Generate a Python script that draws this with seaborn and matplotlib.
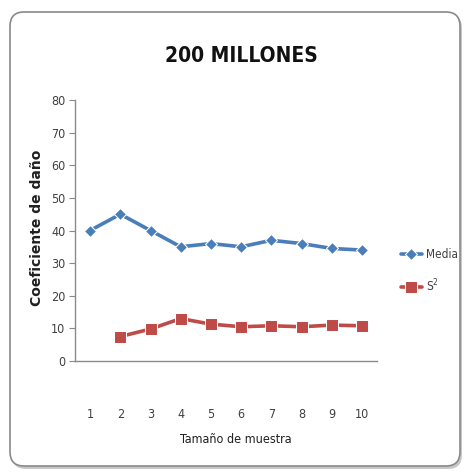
import matplotlib
matplotlib.use("Agg")
import matplotlib.pyplot as plt
from matplotlib.patches import FancyBboxPatch
import seaborn as sns
import pandas as pd

# ---- data ----
tamanos = [1, 2, 3, 4, 5, 6, 7, 8, 9, 10]
media = [40, 45, 40, 35, 36, 35, 37, 36, 34.5, 34]
s2_tamanos = [2, 3, 4, 5, 6, 7, 8, 9, 10]
s2 = [7.5, 9.8, 13, 11.3, 10.5, 10.8, 10.5, 11, 10.8]
series_names = ["Media", "S$^{2}$"]
title = "200 MILLONES"
xlabel = "Tamaño de muestra"
ylabel = "Coeficiente de daño"

df = pd.concat([
    pd.DataFrame({"x": tamanos, "y": media, "serie": series_names[0]}),
    pd.DataFrame({"x": s2_tamanos, "y": s2, "serie": series_names[1]}),
])

sns.set_theme(style="white")
plt.rcParams["font.family"] = ["DejaVu Sans"]
plt.rcParams["font.stretch"] = "condensed"

fig = plt.figure(figsize=(4.67, 4.72), dpi=100)
fig.patch.set_facecolor("white")

W, H = 467, 472
def fx(px): return px / W
def fy(py): return 1 - py / H
shadow = FancyBboxPatch((fx(12), fy(469)), fx(462) - fx(12), fy(14) - fy(469),
                        boxstyle="round,pad=0,rounding_size=0.03",
                        transform=fig.transFigure, facecolor="#c8c8c8",
                        edgecolor="none", zorder=-2)
frame = FancyBboxPatch((fx(10), fy(466)), fx(460) - fx(10), fy(12) - fy(466),
                       boxstyle="round,pad=0,rounding_size=0.03",
                       transform=fig.transFigure, facecolor="white",
                       edgecolor="#8a8a8a", linewidth=1.2, zorder=-1)
fig.patches.extend([shadow, frame])

ax = fig.add_axes([fx(75), fy(361), fx(377) - fx(75), fy(100) - fy(361)])
ax.set_facecolor("none")

palette = {series_names[0]: "#4A7EBB", series_names[1]: "#BE4B48"}
markers = {series_names[0]: "D", series_names[1]: "s"}
sns.lineplot(data=df, x="x", y="y", hue="serie", style="serie",
             palette=palette, markers=markers, dashes=False,
             linewidth=2.6, markersize=7, ax=ax, legend=True)
for line in ax.lines:
    if line.get_marker() == "s":
        line.set_markersize(8.5)
    elif line.get_marker() == "D":
        line.set_markersize(6.5)

ax.set_xlim(0.5, 10.5)
ax.set_ylim(0, 80)
ax.set_xticks(tamanos)
ax.set_xticklabels([str(t) for t in tamanos])
ax.set_yticks(range(0, 81, 10))

for s in ["top", "right"]:
    ax.spines[s].set_visible(False)
for s in ["left", "bottom"]:
    ax.spines[s].set_color("#8a8a8a")
    ax.spines[s].set_linewidth(1.0)

ax.tick_params(axis="y", which="both", left=True, length=4, width=0.8,
               color="#8a8a8a", labelsize=9, labelcolor="#404040", pad=3)
ax.tick_params(axis="x", which="both", bottom=False, labelsize=9,
               labelcolor="#404040", pad=28)

ax.set_xlabel(xlabel, fontsize=9, color="#202020")
ax.xaxis.set_label_coords((236 - 75) / 302, -(433 - 361) / 261, transform=ax.transAxes)
ax.set_ylabel(ylabel, fontsize=10, fontweight="bold", color="#202020",
              fontstretch="normal")
ax.yaxis.set_label_coords(-(75 - 44) / 302, (361 - 228) / 261, transform=ax.transAxes)

fig.text(fx(241), fy(56), title, ha="center", va="center",
         fontsize=15, fontweight="bold", color="#111111")

leg = ax.legend(loc="center left", bbox_to_anchor=(fx(396), fy(271)),
                bbox_transform=fig.transFigure, frameon=False,
                fontsize=8.5, handlelength=1.8, handletextpad=0.3,
                labelspacing=1.4, borderaxespad=0)
for t in leg.get_texts():
    t.set_color("#404040")

fig.savefig("out.png", dpi=100, facecolor="white")
